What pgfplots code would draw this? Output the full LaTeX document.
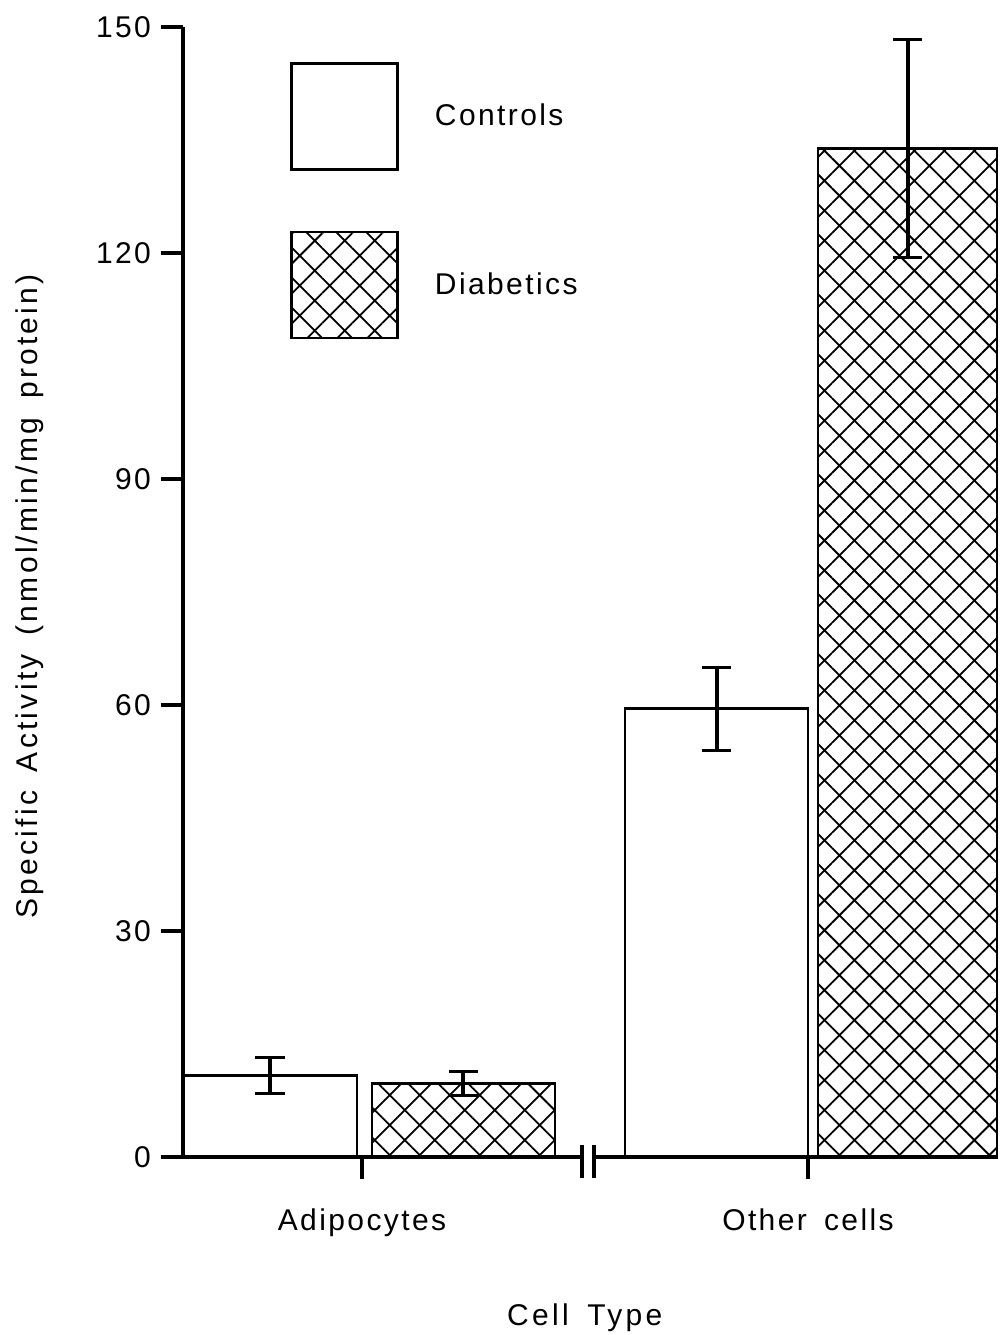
\documentclass[border=0pt]{standalone}
\usepackage{fontspec}
\setmainfont{Liberation Sans}[LetterSpace=8,WordSpace=1.6]
\usepackage{pgfplots}
\pgfplotsset{compat=1.18}
\usetikzlibrary{patterns.meta}
\tikzset{hatchfill/.style={pattern={Hatch[angle=45,distance=10.6pt,line width=0.9pt]}, pattern color=black}}
\pgfplotsset{bigbox legend/.style={legend image code/.code={\draw[##1, line width=1.3pt] (0pt,-26.5pt) rectangle (53pt,26.5pt);}}}
\pgfplotsset{
  ctrl/.style={ybar, bar shift=0pt, draw=black, line width=1.4pt, fill=white, bigbox legend,
    error bars/.cd, y dir=both, y explicit, error bar style={line width=2pt},
    error mark options={rotate=90, mark size=7.3pt, line width=1.5pt}},
  diab/.style={ybar, bar shift=0pt, draw=black, line width=1.4pt, hatchfill, bigbox legend,
    error bars/.cd, y dir=both, y explicit, error bar style={line width=2pt},
    error mark options={rotate=90, mark size=7.3pt, line width=1.5pt}},
}
\newcommand{\chfont}{\fontsize{15}{18}\selectfont}
\newcommand{\lbfont}{\fontsize{15}{18}\selectfont\addfontfeatures{LetterSpace=11}}
\begin{document}
\begin{tikzpicture}
\begin{axis}[
  scale only axis, width=407.5pt, height=565pt,
  xmin=183, xmax=998, ymin=0, ymax=150,
  axis lines*=left,
  axis on top,
  axis line style={line width=2pt},
  x axis line style={draw=none},
  ytick={0,30,60,90,120,150},
  xtick={362,808}, xticklabels={Adipocytes, Other cells},
  tick align=outside, major tick length=11pt,
  every tick/.style={black, line width=1.8pt},
  tick label style={font=\chfont},
  /pgf/number format/assume math mode=true,
  xticklabel style={yshift=-11.5pt},
  yticklabel style={xshift=-1.5pt},
  ylabel={Specific Activity (nmol/min/mg protein)},
  xlabel={Cell Type},
  every axis y label/.style={at={(axis description cs:-0.1877,0.496)}, rotate=90, anchor=center, font=\lbfont},
  every axis x label/.style={at={(axis description cs:0.493,0)}, yshift=-84pt, anchor=base, font=\lbfont},
  clip=false,
  legend cell align=left,
  legend style={draw=none, fill=none, at={(axis cs:290,145.4)}, anchor=north west,
    inner sep=0pt, row sep=30pt, font=\chfont,
    /tikz/every odd column/.append style={column sep=16pt}},
]
\addplot[bar width=174, ctrl] coordinates {(270,10.8) +- (0,2.35)};
\addlegendentry{Controls}
\addplot[bar width=183, diab] coordinates {(463.5,9.8) +- (0,1.6)};
\addlegendentry{Diabetics}
\addplot[bar width=183, forget plot, ctrl] coordinates {(716.5,59.5) +- (0,5.5)};
\addplot[bar width=179, forget plot, diab] coordinates {(907.5,133.9) +- (0,14.5)};
\draw[line width=2pt] (axis cs:183,0) -- (axis cs:582,0);
\draw[line width=2pt] (axis cs:594,0) -- (axis cs:998,0);
\draw[line width=1.6pt] (axis cs:582,1.6) -- (axis cs:582,-2.8);
\draw[line width=1.6pt] (axis cs:594,1.6) -- (axis cs:594,-2.8);
\end{axis}
\pgfresetboundingbox
\path (current axis.south west) ++(-91.5pt,-89pt) rectangle ++(502.5pt,667.5pt);
\end{tikzpicture}
\end{document}
